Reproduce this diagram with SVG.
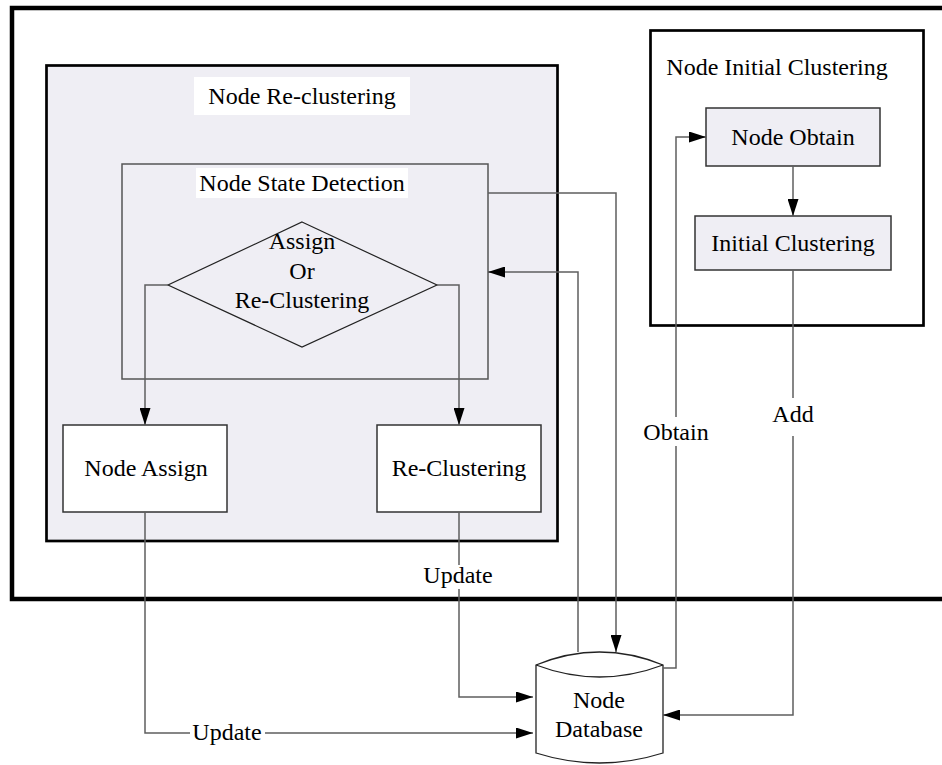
<svg xmlns="http://www.w3.org/2000/svg" width="942" height="765" viewBox="0 0 942 765">
<style>
text{font-family:"Liberation Serif","Times New Roman",serif;font-size:24px;fill:#000;text-anchor:middle}
.conn{fill:none;stroke:#5f5f5f;stroke-width:1.5}
.box{stroke:#333;stroke-width:1.5}
.lbl{fill:#fff;stroke:none}
</style>
<defs>
<marker id="arr" markerUnits="userSpaceOnUse" markerWidth="17" markerHeight="11" refX="17" refY="5.5" orient="auto">
<path d="M0,0 L17,5.5 L0,11 z" fill="#000"/>
</marker>
</defs>
<rect width="942" height="765" fill="#fff"/>
<g id="system">
<rect x="12" y="8" width="1000" height="591" fill="#fff" stroke="#000" stroke-width="4.5"/>
</g>
<g id="node-reclustering">
<rect x="46.5" y="65.5" width="511" height="475.5" fill="#efeef4" stroke="#000" stroke-width="2.7"/>
<rect x="194" y="77" width="216" height="38" fill="#fff"/>
<text x="302" y="104">Node Re-clustering</text>
</g>
<g id="node-state-detection">
<rect x="122" y="164" width="366" height="215" fill="none" stroke="#555" stroke-width="1.5"/>
<rect x="196" y="168" width="212" height="30" fill="#fff"/>
<text x="302" y="191">Node State Detection</text>
</g>
<g id="decision">
<polygon points="302,222 437,285 302,347 168,285" fill="none" stroke="#222" stroke-width="1.2"/>
<text x="302" y="249">Assign</text>
<text x="302" y="279">Or</text>
<text x="302" y="308">Re-Clustering</text>
</g>
<g id="node-assign">
<rect x="63" y="425" width="164" height="87" fill="#fff" class="box"/>
<text x="146" y="476">Node Assign</text>
</g>
<g id="re-clustering">
<rect x="377" y="425" width="164" height="87" fill="#fff" class="box"/>
<text x="459" y="476">Re-Clustering</text>
</g>
<g id="node-initial-clustering">
<rect x="650.5" y="30.5" width="273" height="295" fill="#fff" stroke="#000" stroke-width="2.7"/>
<text x="777" y="75">Node Initial Clustering</text>
</g>
<g id="node-obtain">
<rect x="706" y="108" width="174" height="58" fill="#efeef4" class="box"/>
<text x="793" y="145">Node Obtain</text>
</g>
<g id="initial-clustering">
<rect x="695" y="216" width="196" height="54" fill="#efeef4" class="box"/>
<text x="793" y="251">Initial Clustering</text>
</g>
<g id="node-database">
<path d="M536,665 Q599.5,639 663,665 L663,753 Q599.5,773 536,753 Z" fill="#fff" stroke="#222" stroke-width="1.3"/>
<path d="M536,665 Q599.5,689 663,665" fill="none" stroke="#222" stroke-width="1.3"/>
<text x="599" y="708">Node</text>
<text x="599" y="737">Database</text>
</g>
<g id="connectors">
<polyline class="conn" points="168,285 145,285 145,425" marker-end="url(#arr)"/>
<polyline class="conn" points="437,285 459,285 459,425" marker-end="url(#arr)"/>
<polyline class="conn" points="145,512 145,733 533,733" marker-end="url(#arr)"/>
<polyline class="conn" points="459,512 459,697 533,697" marker-end="url(#arr)"/>
<polyline class="conn" points="488,193 616,193 616,652" marker-end="url(#arr)"/>
<polyline class="conn" points="578,652 578,272 488,272" marker-end="url(#arr)"/>
<polyline class="conn" points="663,668 676,668 676,137 706,137" marker-end="url(#arr)"/>
<polyline class="conn" points="793,270 793,715 663,715" marker-end="url(#arr)"/>
<polyline class="conn" points="793,166 793,216" marker-end="url(#arr)"/>
<rect class="lbl" x="190" y="722" width="75" height="22"/>
<text x="227" y="740">Update</text>
<rect class="lbl" x="422" y="565" width="73" height="24"/>
<text x="458" y="583">Update</text>
<rect class="lbl" x="641" y="417" width="70" height="29"/>
<text x="676" y="440">Obtain</text>
<rect class="lbl" x="770" y="398" width="46" height="38"/>
<text x="793" y="422">Add</text>
</g>
</svg>
